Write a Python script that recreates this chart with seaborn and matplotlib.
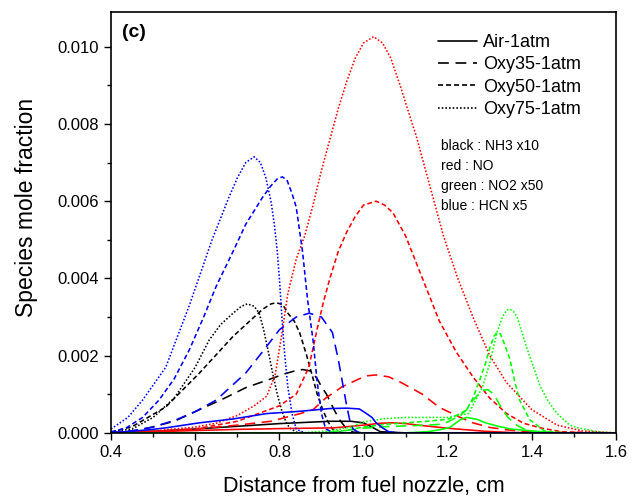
import numpy as np
import pandas as pd
import matplotlib
matplotlib.use("Agg")
import matplotlib.pyplot as plt
from matplotlib.lines import Line2D
from matplotlib.ticker import MultipleLocator, FormatStrFormatter
import seaborn as sns

# ---- species profiles along the burner axis (x in cm, y in mole fraction) ----
# NH3 (scaled x10)
nh3_air_x = [0.40, 0.50, 0.60, 0.70, 0.80, 0.88, 0.92, 0.97, 1.00, 1.02, 1.04, 1.10, 1.60]
nh3_air_y = [0.0, 0.00004, 0.0001, 0.00017, 0.00024, 0.00028, 0.0003, 0.0003, 0.00026, 0.00015, 0.00003, 0.0, 0.0]
nh3_o35_x = [0.40, 0.45, 0.49, 0.55, 0.61, 0.67, 0.72, 0.78, 0.81, 0.835, 0.855, 0.875, 0.89, 0.90, 0.912, 0.93, 0.943, 0.96, 0.975, 1.00, 1.60]
nh3_o35_y = [0.0, 0.00005, 0.00013, 0.0003, 0.0006, 0.0009, 0.00117, 0.0014, 0.00152, 0.0016, 0.00164, 0.0016, 0.0014, 0.0012, 0.001, 0.0006, 0.00034, 0.0001, 0.00002, 0.0, 0.0]
nh3_o50_x = [0.40, 0.45, 0.53, 0.61, 0.69, 0.74, 0.76, 0.78, 0.793, 0.808, 0.82, 0.835, 0.848, 0.865, 0.879, 0.89, 0.903, 0.915, 0.926, 0.94, 0.96, 1.60]
nh3_o50_y = [0.00002, 0.00016, 0.00067, 0.00155, 0.0025, 0.003, 0.0032, 0.00334, 0.00337, 0.00332, 0.0031, 0.0029, 0.0026, 0.002, 0.00145, 0.001, 0.0006, 0.0003, 0.0001, 0.00002, 0.0, 0.0]
nh3_o75_x = [0.40, 0.45, 0.50, 0.55, 0.60, 0.633, 0.66, 0.69, 0.71, 0.724, 0.74, 0.752, 0.762, 0.772, 0.783, 0.795, 0.805, 0.815, 0.824, 0.84, 0.86, 1.60]
nh3_o75_y = [0.00003, 0.0001, 0.0004, 0.0009, 0.0017, 0.0024, 0.0028, 0.0031, 0.00328, 0.00334, 0.00328, 0.0031, 0.0027, 0.0022, 0.0016, 0.001, 0.0006, 0.0003, 0.00013, 0.00002, 0.0, 0.0]

# NO
no_air_x = [0.40, 0.50, 0.60, 0.70, 0.80, 0.93, 1.00, 1.04, 1.07, 1.10, 1.13, 1.20, 1.29, 1.35, 1.45, 1.60]
no_air_y = [0.0, 0.00003, 0.00006, 0.00009, 0.00011, 0.00013, 0.0002, 0.00025, 0.00026, 0.00024, 0.0002, 0.00012, 0.00004, 0.00001, 0.0, 0.0]
no_o35_x = [0.40, 0.50, 0.60, 0.70, 0.78, 0.85, 0.88, 0.91, 0.95, 0.99, 1.01, 1.03, 1.06, 1.09, 1.14, 1.18, 1.23, 1.26, 1.30, 1.34, 1.40, 1.60]
no_o35_y = [0.0, 0.00004, 0.0001, 0.0002, 0.0003, 0.0005, 0.0006, 0.0009, 0.0012, 0.0014, 0.00148, 0.0015, 0.00145, 0.0013, 0.001, 0.00066, 0.0004, 0.00026, 0.00014, 0.00008, 0.00002, 0.0]
no_o50_x = [0.40, 0.50, 0.60, 0.70, 0.75, 0.80, 0.84, 0.87, 0.89, 0.905, 0.92, 0.94, 0.96, 0.98, 1.00, 1.03, 1.05, 1.07, 1.10, 1.14, 1.18, 1.22, 1.26, 1.30, 1.34, 1.38, 1.42, 1.47, 1.55, 1.60]
no_o50_y = [0.0, 0.00003, 0.0001, 0.0003, 0.0005, 0.0007, 0.001, 0.0017, 0.0027, 0.0034, 0.004, 0.0047, 0.0052, 0.0056, 0.0059, 0.006, 0.0059, 0.0057, 0.0051, 0.004, 0.0029, 0.0021, 0.00145, 0.0009, 0.0005, 0.00025, 0.00013, 0.00003, 0.0, 0.0]
no_o75_x = [0.40, 0.50, 0.60, 0.65, 0.70, 0.74, 0.77, 0.79, 0.805, 0.82, 0.84, 0.86, 0.88, 0.90, 0.92, 0.94, 0.96, 0.98, 1.00, 1.024, 1.045, 1.065, 1.09, 1.11, 1.125, 1.16, 1.19, 1.224, 1.26, 1.30, 1.34, 1.40, 1.46, 1.52, 1.60]
no_o75_y = [0.0, 0.00005, 0.00015, 0.00025, 0.00045, 0.0007, 0.00095, 0.0015, 0.0025, 0.0036, 0.0045, 0.0051, 0.0059, 0.0068, 0.0076, 0.0084, 0.0091, 0.0097, 0.0101, 0.01026, 0.0101, 0.0097, 0.0089, 0.0082, 0.0077, 0.0063, 0.0051, 0.004, 0.003, 0.002, 0.0013, 0.0006, 0.0002, 0.00005, 0.0]

# NO2 (scaled x50)
no2_air_x = [0.40, 1.10, 1.15, 1.17, 1.19, 1.205, 1.23, 1.245, 1.27, 1.29, 1.32, 1.35, 1.40, 1.45, 1.50, 1.60]
no2_air_y = [0.0, 0.0, 0.00003, 0.00006, 0.0001, 0.00014, 0.00034, 0.0004, 0.00035, 0.00026, 0.00017, 0.0001, 0.00005, 0.00001, 0.0, 0.0]
no2_o35_x = [0.40, 0.90, 0.95, 1.00, 1.05, 1.10, 1.15, 1.18, 1.20, 1.23, 1.245, 1.26, 1.283, 1.295, 1.31, 1.33, 1.345, 1.364, 1.39, 1.43, 1.60]
no2_o35_y = [0.0, 0.0, 0.00005, 0.00012, 0.00016, 0.00018, 0.0002, 0.00022, 0.00028, 0.00045, 0.0006, 0.00085, 0.0011, 0.00112, 0.001, 0.0006, 0.00038, 0.0002, 0.00005, 0.0, 0.0]
no2_o50_x = [0.40, 0.90, 0.95, 1.00, 1.05, 1.10, 1.15, 1.20, 1.23, 1.245, 1.26, 1.276, 1.29, 1.30, 1.31, 1.317, 1.325, 1.335, 1.348, 1.36, 1.371, 1.395, 1.43, 1.47, 1.60]
no2_o50_y = [0.0, 0.0, 0.00005, 0.00015, 0.00022, 0.00026, 0.0003, 0.00035, 0.0005, 0.0006, 0.0009, 0.00137, 0.0018, 0.0022, 0.0025, 0.0026, 0.00257, 0.0023, 0.0019, 0.0013, 0.00085, 0.00034, 0.00005, 0.0, 0.0]
no2_o75_x = [0.40, 0.85, 0.92, 0.97, 1.00, 1.05, 1.10, 1.20, 1.25, 1.283, 1.30, 1.317, 1.33, 1.34, 1.348, 1.356, 1.365, 1.388, 1.42, 1.44, 1.46, 1.49, 1.51, 1.56, 1.60]
no2_o75_y = [0.0, 0.0, 0.00005, 0.00015, 0.00028, 0.00037, 0.0004, 0.0004, 0.0005, 0.0012, 0.0018, 0.0026, 0.003, 0.00318, 0.0032, 0.00315, 0.003, 0.0022, 0.0012, 0.0008, 0.0005, 0.0002, 0.00013, 0.00002, 0.0]

# HCN (scaled x5)
hcn_air_x = [0.40, 0.49, 0.53, 0.61, 0.69, 0.77, 0.85, 0.92, 0.96, 0.99, 1.007, 1.02, 1.03, 1.045, 1.06, 1.08, 1.60]
hcn_air_y = [0.0, 0.00008, 0.00013, 0.00026, 0.00036, 0.0005, 0.00056, 0.00063, 0.00064, 0.00062, 0.0005, 0.0004, 0.00026, 0.00013, 0.00003, 0.0, 0.0]
hcn_o35_x = [0.40, 0.45, 0.50, 0.555, 0.60, 0.65, 0.72, 0.76, 0.80, 0.84, 0.871, 0.90, 0.926, 0.94, 0.95, 0.96, 0.967, 0.975, 0.99, 1.60]
hcn_o35_y = [0.0, 0.00005, 0.00015, 0.00034, 0.00055, 0.00085, 0.00155, 0.0021, 0.00267, 0.003, 0.0031, 0.003, 0.0026, 0.0019, 0.0013, 0.0007, 0.00034, 0.0001, 0.0, 0.0]
hcn_o50_x = [0.40, 0.436, 0.475, 0.514, 0.55, 0.586, 0.62, 0.65, 0.69, 0.72, 0.76, 0.78, 0.795, 0.807, 0.818, 0.83, 0.84, 0.855, 0.867, 0.88, 0.89, 0.90, 0.91, 0.93, 1.60]
hcn_o50_y = [0.00002, 0.00013, 0.0004, 0.00085, 0.0014, 0.00215, 0.003, 0.0038, 0.0047, 0.0054, 0.0061, 0.0064, 0.00658, 0.00663, 0.00655, 0.0062, 0.00585, 0.0047, 0.00345, 0.0024, 0.0013, 0.0005, 0.0001, 0.0, 0.0]
hcn_o75_x = [0.40, 0.44, 0.475, 0.53, 0.586, 0.64, 0.68, 0.70, 0.72, 0.74, 0.755, 0.768, 0.78, 0.788, 0.795, 0.80, 0.806, 0.812, 0.82, 0.83, 0.84, 0.86, 1.60]
hcn_o75_y = [0.0001, 0.0004, 0.00085, 0.0017, 0.0033, 0.005, 0.0061, 0.0066, 0.007, 0.00715, 0.007, 0.0066, 0.006, 0.0054, 0.0047, 0.004, 0.003, 0.0021, 0.0012, 0.0005, 0.0001, 0.0, 0.0]

cases = ["Air-1atm", "Oxy35-1atm", "Oxy50-1atm", "Oxy75-1atm"]
species = ["NH3", "NO", "NO2", "HCN"]
species_notes = ["black : NH3 x10", "red : NO", "green : NO2 x50", "blue : HCN x5"]

profiles = {
    "NH3": [(nh3_air_x, nh3_air_y), (nh3_o35_x, nh3_o35_y), (nh3_o50_x, nh3_o50_y), (nh3_o75_x, nh3_o75_y)],
    "NO": [(no_air_x, no_air_y), (no_o35_x, no_o35_y), (no_o50_x, no_o50_y), (no_o75_x, no_o75_y)],
    "NO2": [(no2_air_x, no2_air_y), (no2_o35_x, no2_o35_y), (no2_o50_x, no2_o50_y), (no2_o75_x, no2_o75_y)],
    "HCN": [(hcn_air_x, hcn_air_y), (hcn_o35_x, hcn_o35_y), (hcn_o50_x, hcn_o50_y), (hcn_o75_x, hcn_o75_y)],
}

rows = []
for sp in species:
    for case, (xs, ys) in zip(cases, profiles[sp]):
        for xv, yv in zip(xs, ys):
            rows.append({"x": xv, "y": yv, "species": sp, "case": case})
df = pd.DataFrame(rows)

sns.set_style("ticks")
plt.rcParams["font.family"] = ["Liberation Sans", "DejaVu Sans"]
plt.rcParams["text.color"] = "black"
plt.rcParams["axes.labelcolor"] = "black"

palette = {"NH3": "#000000", "NO": "#ff0000", "NO2": "#00ff00", "HCN": "#0000ff"}
dash_map = {"Air-1atm": "", "Oxy35-1atm": (6.5, 4.0), "Oxy50-1atm": (3.0, 1.8), "Oxy75-1atm": (1.0, 1.2)}

fig = plt.figure(figsize=(6.42, 5.01), dpi=100)
ax = fig.add_axes([0.173, 0.136, 0.7865, 0.840])

sns.lineplot(data=df, x="x", y="y", hue="species", style="case",
             hue_order=species, style_order=cases,
             palette=palette, dashes=dash_map, estimator=None, sort=False,
             linewidth=1.15, legend=False, ax=ax)

ax.set_xlim(0.4, 1.6)
ax.set_ylim(0.0, 0.0109)
ax.xaxis.set_major_locator(MultipleLocator(0.2))
ax.xaxis.set_minor_locator(MultipleLocator(0.1))
ax.yaxis.set_major_locator(MultipleLocator(0.002))
ax.yaxis.set_minor_locator(MultipleLocator(0.001))
ax.xaxis.set_major_formatter(FormatStrFormatter("%.1f"))
ax.yaxis.set_major_formatter(FormatStrFormatter("%.3f"))
ax.tick_params(which="major", direction="out", length=5, width=1.0, labelsize=12, color="black", labelcolor="black")
ax.tick_params(which="minor", direction="out", length=3, width=1.0, color="black")
for s in ax.spines.values():
    s.set_visible(True)
    s.set_color("black")
    s.set_linewidth(1.2)

ax.set_xlabel("Distance from fuel nozzle, cm", fontsize=15.5, labelpad=12)
ax.set_ylabel("Species mole fraction", fontsize=16.5)
ax.yaxis.set_label_coords(-0.145, 0.535)

ax.text(0.021, 0.951, "(c)", transform=ax.transAxes, fontsize=14, fontweight="bold", va="center", ha="left")

handles = [Line2D([], [], color="black", lw=1.2, linestyle=(0, dash_map[c]) if dash_map[c] else "-") for c in cases]
ax.legend(handles, cases, loc="upper left", bbox_to_anchor=(0.622, 0.978), frameon=False,
          fontsize=13, handlelength=2.2, handletextpad=0.3, labelspacing=0.3, borderaxespad=0.3)

for i, note in enumerate(species_notes):
    ax.text(0.653, 0.682 - i * 0.048, note, transform=ax.transAxes, fontsize=10, va="center", ha="left")

fig.savefig("out.png", dpi=100)
